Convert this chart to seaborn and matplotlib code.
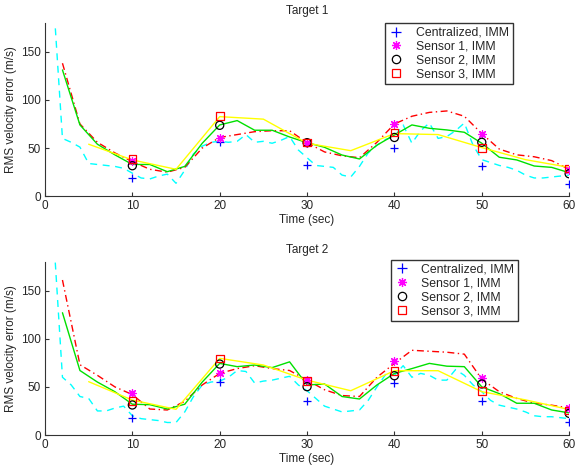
import numpy as np
import pandas as pd
import matplotlib
matplotlib.use("Agg")
import matplotlib.pyplot as plt
from matplotlib.lines import Line2D
import seaborn as sns

# ---------------- data ----------------
t_fine = list(range(1, 61))          # centralized line, 1 s
t_two = list(range(2, 61, 2))        # sensor 1 / sensor 2 lines, 2 s
t_five = list(range(5, 61, 5))       # sensor 3 line, 5 s
t_mark = [10, 20, 30, 40, 50, 60]    # marker times

titles = ["Target 1", "Target 2"]
legend_labels = ["Centralized, IMM", "Sensor 1, IMM", "Sensor 2, IMM", "Sensor 3, IMM"]

# Target 1
t1_cent_line = [200, 60, 56, 51, 34, 33, 32, 31, 29, 24,
                19, 18, 21, 23, 13.5, 27, 44, 52, 56, 57,
                56, 57, 64, 56, 57, 55, 58, 62, 48, 40,
                32, 31, 30, 22, 20, 31, 45, 53, 59, 62,
                74, 55, 68, 76, 60, 62, 68, 76, 53, 38,
                35, 32, 30, 27, 22, 19, 19, 20, 21, 22]
t1_s1_line = [138, 75, 56, 45, 36, 28, 25, 30, 50, 61,
              64, 67, 68, 68, 55.6, 46, 42, 40, 56, 75,
              83, 87, 88.5, 83, 65, 49, 43, 41, 37, 28]
t1_s2_line = [131, 74, 54, 43, 33, 33, 25.5, 31, 55, 74,
              78.5, 68.5, 68.5, 61.5, 55.6, 50.8, 42.8, 38.7, 53, 63.6,
              74, 70.5, 68.8, 66.4, 55, 40.5, 37.7, 31.4, 30, 24.5]
t1_s3_line = [54, 37.7, 28, 82.6, 80, 55, 47.3, 65, 64, 50.5, 38, 30]
t1_cent_mark = [19.3, 56.3, 32.5, 49.8, 31.7, 12.4]
t1_s1_mark = [37, 60.8, 55.6, 75, 65, 27]
t1_s2_mark = [31.7, 73.6, 55.6, 61, 56, 23.4]
t1_s3_mark = [38.4, 83, 55.6, 66, 49.8, 29]

# Target 2
t2_cent_line = [205, 60, 52, 40, 38, 25, 25, 28, 30, 20,
                17, 16, 15, 13, 13, 24, 40, 52, 55, 56,
                60, 67, 66, 54, 56, 57, 59, 61, 52, 46,
                38, 30, 27, 24, 25, 26, 36, 50, 63, 62,
                72, 60, 64, 62, 57, 57, 68, 62, 52, 45,
                36, 31, 29, 27, 24, 20, 19, 19, 18, 17]
t2_s1_line = [161, 73, 62, 50, 42, 27, 26, 35, 52, 64,
              69, 72, 69, 67, 57, 47, 41, 40, 60, 74.4,
              88, 87, 86, 84, 58, 45, 38, 33, 31, 28]
t2_s2_line = [127, 67, 55, 45, 32, 31.5, 27, 32, 55, 74.4,
              71, 72.7, 70, 76, 52, 53, 40, 37.4, 52, 64,
              69, 74.4, 71.5, 71, 50, 43, 33, 33, 26, 23]
t2_s3_line = [55.4, 36.3, 26.7, 79.6, 72.7, 57, 46, 66.8, 66.8, 45, 36.5, 26.5]
t2_cent_mark = [17.3, 54.7, 35.6, 53.7, 35.6, 13.8]
t2_s1_mark = [43.3, 64.7, 57, 76.8, 59.5, 28.4]
t2_s2_mark = [31.2, 73.7, 50.2, 61.6, 53, 22.5]
t2_s3_mark = [35.3, 79.6, 56, 66.8, 45.7, 25.3]

panels = [
    dict(lines=[t1_cent_line, t1_s1_line, t1_s2_line, t1_s3_line],
         marks=[t1_cent_mark, t1_s1_mark, t1_s2_mark, t1_s3_mark]),
    dict(lines=[t2_cent_line, t2_s1_line, t2_s2_line, t2_s3_line],
         marks=[t2_cent_mark, t2_s1_mark, t2_s2_mark, t2_s3_mark]),
]
line_times = [t_fine, t_two, t_two, t_five]

# ---------------- style ----------------
sns.set_style("ticks")
plt.rcParams["font.family"] = ["Liberation Sans", "DejaVu Sans"]
plt.rcParams["xtick.direction"] = "in"
plt.rcParams["ytick.direction"] = "in"

line_colors = ["#00FFFF", "#FF0000", "#00E000", "#FFFF00"]
line_dashes = [(5, 4), (5, 2.5, 1, 2.5), None, None]
mark_colors = ["#0000FF", "#FF00FF", "#000000", "#FF0000"]
mark_shapes = ["+", (8, 2, 0), "o", "s"]
mark_sizes = [40, 30, 34, 30]

fig = plt.figure(figsize=(5.76, 4.73), dpi=100)
ax_rects = [[0.0781, 0.585, 0.910, 0.367], [0.0781, 0.0803, 0.910, 0.3664]]
legend_anchor = [(0.649, 0.67, 0.243, 0.327), (0.66, 0.679, 0.242, 0.331)]
fs = 8.5

for p, panel in enumerate(panels):
    ax = fig.add_axes(ax_rects[p])
    for i in range(4):
        df = pd.DataFrame({"t": line_times[i], "v": panel["lines"][i]})
        kw = dict(color=line_colors[i], linewidth=1.0)
        sns.lineplot(data=df, x="t", y="v", ax=ax, estimator=None, sort=False, **kw)
        ln = ax.lines[-1]
        if line_dashes[i] is not None:
            ln.set_dashes(line_dashes[i])
    for i in range(4):
        dm = pd.DataFrame({"t": t_mark, "v": panel["marks"][i]})
        if mark_shapes[i] in ("o", "s"):
            sns.scatterplot(data=dm, x="t", y="v", ax=ax, marker=mark_shapes[i],
                            s=mark_sizes[i], facecolor="none",
                            edgecolor=mark_colors[i], linewidth=0.9, zorder=5)
        else:
            sns.scatterplot(data=dm, x="t", y="v", ax=ax, marker=mark_shapes[i],
                            s=mark_sizes[i], color=mark_colors[i],
                            linewidth=0.9, zorder=5)
    ax.set_xlim(0, 60)
    ax.set_ylim(0, 180)
    ax.set_xticks([0, 10, 20, 30, 40, 50, 60])
    ax.set_yticks([0, 50, 100, 150])
    ax.tick_params(labelsize=fs, length=3, width=0.8, color="#333333", pad=3)
    for s in ["top", "right"]:
        ax.spines[s].set_visible(False)
    for s in ["left", "bottom"]:
        ax.spines[s].set_color("#333333")
        ax.spines[s].set_linewidth(0.8)
    ax.set_xlabel("Time (sec)", fontsize=fs, labelpad=1)
    ax.set_ylabel("RMS velocity error (m/s)", fontsize=fs, labelpad=3)
    ax.set_title(titles[p], fontsize=fs, pad=6)

    handles = []
    for i in range(4):
        if mark_shapes[i] in ("o", "s"):
            h = Line2D([], [], linestyle="none", marker=mark_shapes[i],
                       markersize=6, markerfacecolor="none",
                       markeredgecolor=mark_colors[i], markeredgewidth=0.9)
        else:
            h = Line2D([], [], linestyle="none", marker=mark_shapes[i],
                       markersize=6.5, color=mark_colors[i], markeredgewidth=0.9)
        handles.append(h)
    leg = ax.legend(handles, legend_labels, loc="upper left",
                    bbox_to_anchor=legend_anchor[p], mode="expand",
                    fontsize=fs + 0.3, frameon=True, fancybox=False,
                    handlelength=1.2, handletextpad=1.0, borderpad=0.3,
                    labelspacing=0.15, borderaxespad=0)
    leg.get_frame().set_edgecolor("black")
    leg.get_frame().set_linewidth(1.0)

fig.savefig("out.png", dpi=100)
